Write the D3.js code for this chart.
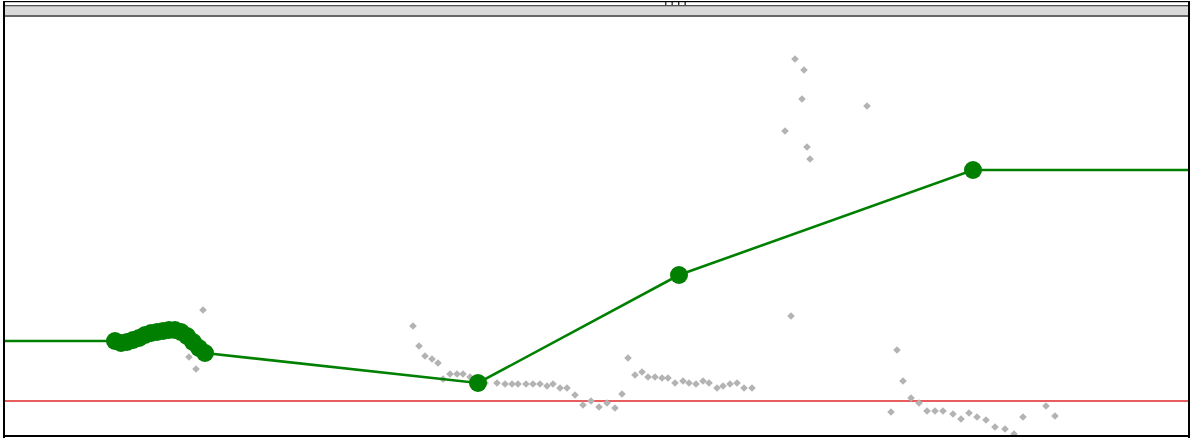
<!DOCTYPE html>
<html>
<head>
<meta charset="utf-8">
<script src="https://cdn.jsdelivr.net/npm/d3@7"></script>
<style>
  html, body { margin: 0; padding: 0; background: #ffffff; }
  svg { display: block; }
</style>
</head>
<body>
<script>
// Fitted trend: knot positions and levels
const trendX = [11.0, 11.6, 12.2, 12.8, 13.4, 14.0, 14.6, 15.2, 15.8, 16.4, 17.0, 17.6, 18.2, 18.8, 19.4, 20.0, 47.3, 67.4, 96.8];
const trendY = [0.60, 0.58, 0.59, 0.61, 0.63, 0.66, 0.68, 0.69, 0.70, 0.71, 0.71, 0.69, 0.65, 0.59, 0.53, 0.48, 0.18, 1.26, 2.31];

// Raw observations
const obsX = [19.8, 18.4, 19.1, 40.8, 41.4, 42.0, 42.7, 43.3, 43.8, 44.5, 45.2, 45.8, 46.5, 47.3, 48.0, 49.2, 50.0, 50.7, 51.3, 52.1, 52.8, 53.5, 54.2, 54.8, 55.5, 56.2, 57.0, 57.8, 58.6, 59.4, 60.2, 61.0, 61.7, 62.3, 63.0, 63.7, 64.3, 65.0, 65.7, 66.3, 67.0, 67.8, 68.4, 69.1, 69.8, 70.4, 71.2, 71.8, 72.5, 73.2, 73.9, 74.7, 79.0, 79.9, 79.7, 86.2, 78.0, 80.2, 80.5, 78.6, 89.2, 89.8, 90.6, 91.4, 88.6, 92.2, 93.0, 93.8, 94.8, 95.6, 96.4, 97.2, 98.1, 99.0, 100.0, 100.9, 101.8, 104.1, 105.0];
const obsY = [0.91, 0.44, 0.32, 0.75, 0.55, 0.45, 0.42, 0.38, 0.22, 0.27, 0.27, 0.27, 0.24, 0.19, 0.18, 0.18, 0.17, 0.17, 0.17, 0.17, 0.17, 0.17, 0.15, 0.17, 0.13, 0.13, 0.06, -0.04, 0.00, -0.06, -0.02, -0.07, 0.07, 0.43, 0.26, 0.29, 0.24, 0.24, 0.23, 0.23, 0.18, 0.20, 0.18, 0.17, 0.20, 0.18, 0.13, 0.15, 0.17, 0.18, 0.13, 0.13, 3.42, 3.31, 3.02, 2.95, 2.70, 2.54, 2.42, 0.85, 0.51, 0.20, 0.03, -0.02, -0.11, -0.10, -0.10, -0.10, -0.13, -0.18, -0.12, -0.16, -0.19, -0.26, -0.28, -0.33, -0.16, -0.05, -0.15];

// Reference level
const baseline = [0];

const W = 1190, H = 439;
const plot = { left: 5, right: 1188, top: 17, bottom: 435 };

const svg = d3.select("body").append("svg").attr("width", W).attr("height", H);

const x = d3.scaleLinear().domain([0, 118.3]).range([plot.left, plot.right]);
const y = d3.scaleLinear().domain([-0.35, 3.83]).range([436, 18]);

// Header strip
svg.append("rect").attr("x", 3).attr("y", 5).attr("width", 1185).attr("height", 12).attr("fill", "#d9d9d9");
svg.append("rect").attr("x", 3).attr("y", 5).attr("width", 1185).attr("height", 1.3).attr("fill", "#505050");
svg.append("rect").attr("x", 3).attr("y", 15.2).attr("width", 1185).attr("height", 1.6).attr("fill", "#4a4a4a");
// Grip marks
[665, 671.5, 678, 684.5].forEach(gx => {
  svg.append("rect").attr("x", gx).attr("y", 2).attr("width", 1.4).attr("height", 3).attr("fill", "#333");
});

svg.append("clipPath").attr("id", "plotClip")
  .append("rect").attr("x", plot.left).attr("y", plot.top)
  .attr("width", plot.right - plot.left).attr("height", plot.bottom - plot.top);

const g = svg.append("g").attr("clip-path", "url(#plotClip)");

// Reference line
g.selectAll("line.base").data(baseline).join("line")
  .attr("class", "base")
  .attr("x1", plot.left).attr("x2", plot.right)
  .attr("y1", d => y(d)).attr("y2", d => y(d))
  .attr("stroke", "#e02828").attr("stroke-width", 1.4);

// Observations as diamonds
const obs = obsX.map((v, i) => ({ x: v, y: obsY[i] }));
const diamond = "M0,-3.8L3.8,0L0,3.8L-3.8,0Z";
g.selectAll("path.obs").data(obs).join("path")
  .attr("class", "obs")
  .attr("d", diamond)
  .attr("transform", d => `translate(${x(d.x)},${y(d.y)})`)
  .attr("fill", "#b3b3b3");

// Trend line, held flat beyond the first and last knots
const trend = trendX.map((v, i) => ({ x: v, y: trendY[i] }));
const extended = [{ x: x.domain()[0], y: trend[0].y }, ...trend, { x: x.domain()[1], y: trend[trend.length - 1].y }];
const line = d3.line().x(d => x(d.x)).y(d => y(d.y));
g.append("path").datum(extended)
  .attr("d", line)
  .attr("fill", "none")
  .attr("stroke", "#008000")
  .attr("stroke-width", 2.6);

g.selectAll("circle.knot").data(trend).join("circle")
  .attr("class", "knot")
  .attr("cx", d => x(d.x)).attr("cy", d => y(d.y))
  .attr("r", 9)
  .attr("fill", "#007f00");

// Frame
svg.append("rect").attr("x", 3).attr("y", 1).attr("width", 1187).attr("height", 1.2).attr("fill", "#000");
svg.append("rect").attr("x", 3).attr("y", 1).attr("width", 2).attr("height", 437).attr("fill", "#000");
svg.append("rect").attr("x", 1188).attr("y", 1).attr("width", 2).attr("height", 437).attr("fill", "#000");
svg.append("rect").attr("x", 3).attr("y", 435).attr("width", 1187).attr("height", 2).attr("fill", "#000");
</script>
</body>
</html>
